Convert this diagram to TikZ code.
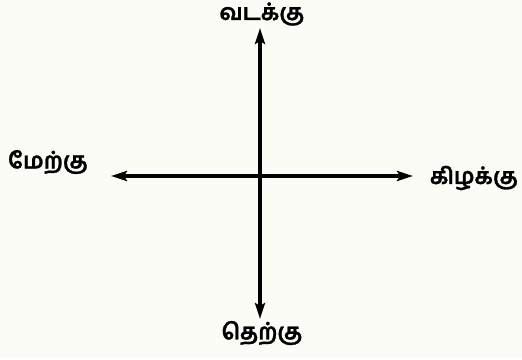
\documentclass[tikz,border=0pt]{standalone}
\usepackage{fontspec}
\newfontfamily\tamilfont[Script=Tamil,BoldFeatures={FakeBold=1.2}]{Hind Madurai}
\usetikzlibrary{arrows.meta}
\begin{document}
\begin{tikzpicture}[x=1pt,y=1pt,
  dirlabel/.style={font=\tamilfont\bfseries\fontsize{22.5}{26}\selectfont, inner sep=0pt},
  axis/.style={line width=3.2pt, -{Stealth[length=16pt,width=10pt,inset=3pt]}}]
\fill[fill={rgb,255:red,252;green,252;blue,246}] (0,0) rectangle (522,359);
\useasboundingbox (0,0) rectangle (522,359);
\coordinate (c) at (260,183);
\coordinate (n) at (260,331);
\coordinate (s) at (260,40);
\coordinate (w) at (111,183);
\coordinate (e) at (413,183);
\draw[axis] (c) -- (n);
\draw[axis] (c) -- (s);
\draw[axis] (c) -- (w);
\draw[axis] (c) -- (e);
\node[dirlabel] (north) at (262,345) {வடக்கு};
\node[dirlabel] (south) at (262,26) {தெற்கு};
\node[dirlabel] (west) at (48,197) {மேற்கு};
\node[dirlabel] (east) at (474,181) {கிழக்கு};
\end{tikzpicture}
\end{document}
